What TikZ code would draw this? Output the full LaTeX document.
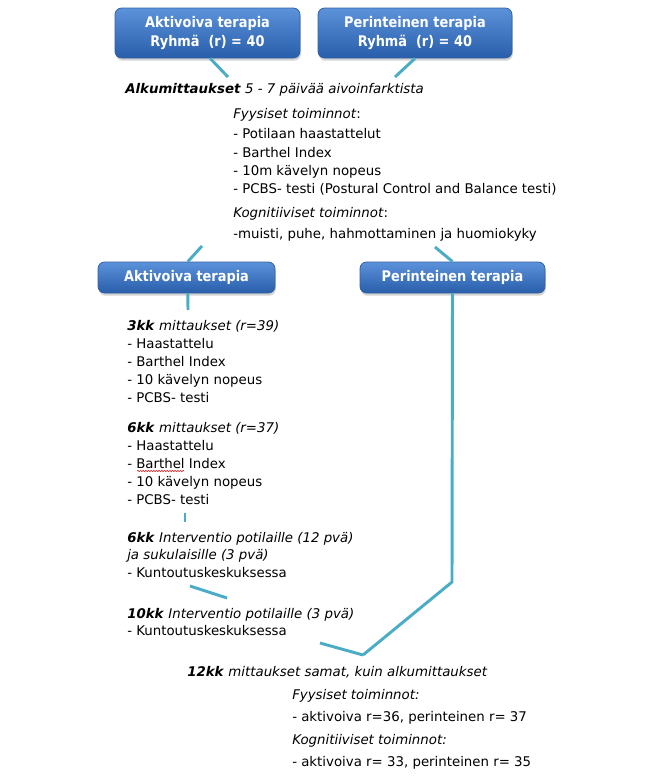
\documentclass[tikz,border=0pt]{standalone}
\usepackage{fontspec}
\setmainfont{DejaVu Sans}
\newfontfamily\boxfont{DejaVu Sans}[FakeStretch=0.88]
\usetikzlibrary{shadows,decorations.pathmorphing}
\definecolor{boxtop}{RGB}{92,146,218}
\definecolor{boxbot}{RGB}{40,94,170}
\definecolor{boxborder}{RGB}{50,96,160}
\definecolor{connc}{RGB}{75,172,198}
\begin{document}
\begin{tikzpicture}[x=0.75pt,y=-0.75pt,
  box/.style={draw=boxborder, line width=0.6pt, rounded corners=5pt,
    top color=boxtop, bottom color=boxbot, text=white,
    font=\boxfont\bfseries\fontsize{11}{14}\selectfont, align=center, inner sep=0pt,
    drop shadow={opacity=0.35, shadow xshift=0.6pt, shadow yshift=-2pt}},
  conn/.style={draw=connc, line width=2.2pt},
  txt/.style={anchor=base west, inner sep=0pt, font=\fontsize{10}{12}\selectfont}]
\useasboundingbox (0,0) rectangle (665,783);
% boxes
\node[box, minimum width=138.75pt, minimum height=37.5pt] (tl) at (207.5,33) {Aktivoiva terapia\\Ryhmä\ \ (r) = 40};
\node[box, minimum width=145.5pt, minimum height=37.5pt] (tr) at (415,33) {Perinteinen terapia\\Ryhmä\ \ (r) = 40};
\node[box, minimum width=132.75pt, minimum height=23.25pt] (bl) at (186.5,277.5) {Aktivoiva terapia};
\node[box, minimum width=138.75pt, minimum height=23.25pt] (br) at (452.5,277.5) {Perinteinen terapia};
% first block
\node[txt] (alku) at (125,93) {\textbf{\textit{Alkumittaukset}} \textit{5 - 7 päivää aivoinfarktista}};
\node[txt] (fy1) at (233,118) {\textit{Fyysiset toiminnot}:};
\node[txt] (p1) at (233,138) {- Potilaan haastattelut};
\node[txt] (p2) at (233,157) {- Barthel Index};
\node[txt] (p3) at (233,175) {- 10m kävelyn nopeus};
\node[txt] (p4) at (233,193) {- PCBS- testi (Postural Control and Balance\ testi)};
\node[txt] (ko1) at (233,217) {\textit{Kognitiiviset toiminnot}:};
\node[txt] (k1) at (233,238) {-muisti, puhe, hahmottaminen ja huomiokyky};
% 3kk
\node[txt] (m3) at (127,330) {\textbf{\textit{3kk}} \textit{mittaukset (r=39)}};
\node[txt] (m3a) at (127,348) {- Haastattelu};
\node[txt] (m3b) at (127,366) {- Barthel Index};
\node[txt] (m3c) at (127,384) {- 10 kävelyn nopeus};
\node[txt] (m3d) at (127,402) {- PCBS- testi};
% 6kk
\node[txt] (m6) at (127,432) {\textbf{\textit{6kk}} \textit{mittaukset (r=37)}};
\node[txt] (m6a) at (127,450) {- Haastattelu};
\node[txt] (m6b) at (127,468) {- Barthel Index};
\node[txt] (m6c) at (127,486) {- 10 kävelyn nopeus};
\node[txt] (m6d) at (127,504) {- PCBS- testi};
\draw[red!85!black, line width=0.4pt, decorate, decoration={snake, amplitude=0.45pt, segment length=2pt}] (137,471) -- (184,471);
% interventions
\node[txt] (i6) at (127,542) {\textbf{\textit{6kk}} \textit{Interventio potilaille (12 pvä)}};
\node[txt] (i6b) at (127,559) {\textit{ja sukulaisille (3 pvä)}};
\node[txt] (i6c) at (127,577) {- Kuntoutuskeskuksessa};
\node[txt] (i10) at (127,618) {\textbf{\textit{10kk}} \textit{Interventio potilaille (3 pvä)}};
\node[txt] (i10b) at (127,635) {- Kuntoutuskeskuksessa};
% 12kk
\node[txt] (m12) at (187,676) {\textbf{\textit{12kk}} \textit{mittaukset samat, kuin alkumittaukset}};
\node[txt] (f2) at (292,699) {\textit{Fyysiset toiminnot:}};
\node[txt] (a1) at (292,721) {- aktivoiva r=36, perinteinen r= 37};
\node[txt] (ko2) at (292,744) {\textit{Kognitiiviset toiminnot:}};
\node[txt] (a2) at (292,766) {- aktivoiva r= 33, perinteinen r= 35};
% connector points
\coordinate (c1) at (228,77);
\coordinate (c2) at (395,77);
\coordinate (c3) at (202,246);
\coordinate (c4) at (435,247);
\coordinate (c5) at (188,310);
\coordinate (c6a) at (185,513);
\coordinate (c6b) at (185,522);
\coordinate (c7a) at (190,586);
\coordinate (c7b) at (227,598);
\coordinate (c8) at (452,582);
\coordinate (c9) at (363,655);
\coordinate (c10) at (320,643);
% connectors
\draw[conn] ([xshift=2pt]tl.south) -- (c1);
\draw[conn] (tr.south) -- (c2);
\draw[conn] (c3) -- ([xshift=1pt]bl.north);
\draw[conn] (c4) -- (br.north);
\draw[conn] ([xshift=1pt]bl.south) -- (c5);
\draw[conn] (c6a) -- (c6b);
\draw[conn] (c7a) -- (c7b);
\draw[conn] (br.south) -- (c8) -- (c9);
\draw[conn] (c10) -- (c9);
\end{tikzpicture}
\end{document}
